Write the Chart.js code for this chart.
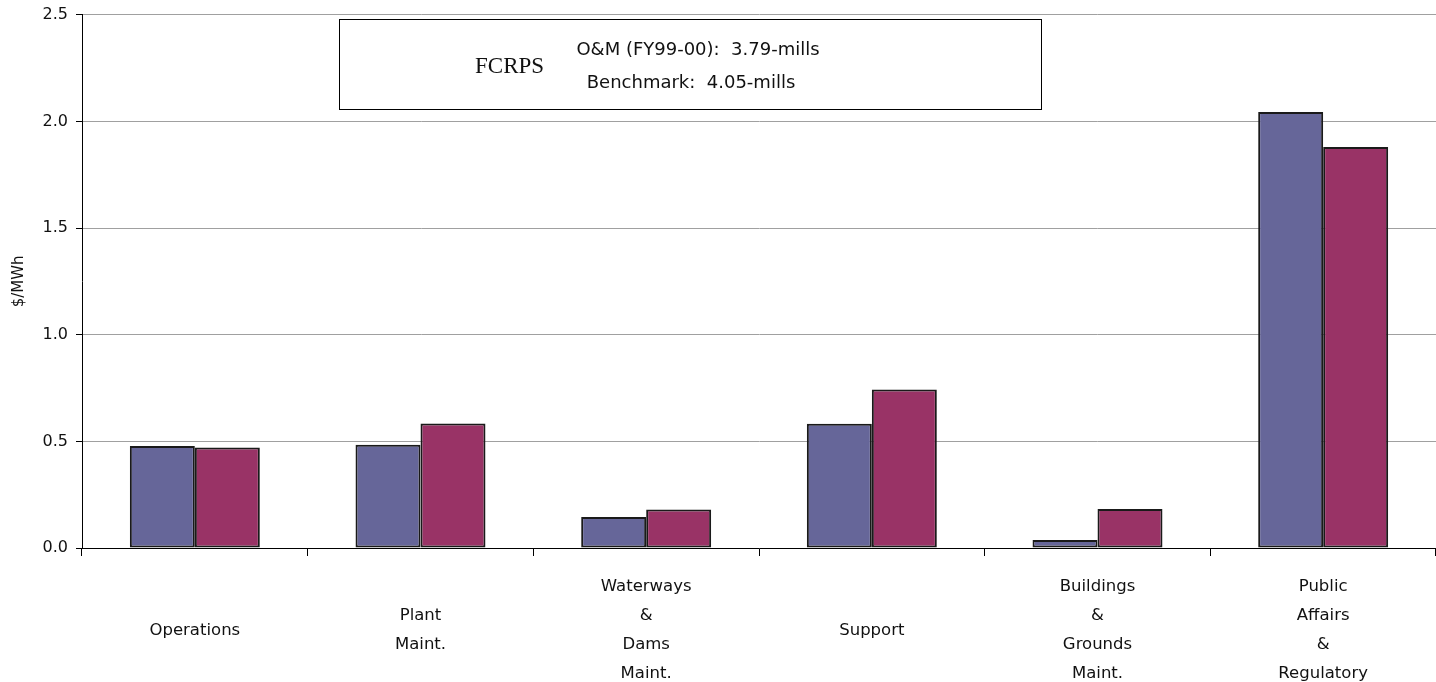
<!DOCTYPE html>
<html>
<head>
<meta charset="utf-8">
<script src="https://cdn.jsdelivr.net/npm/chart.js@4/dist/chart.umd.min.js"></script>
<style>
html,body{margin:0;padding:0;background:#fff;}
#wrap{width:1436px;height:682px;position:relative;}
</style>
</head>
<body>
<div id="wrap"><canvas id="c" width="1436" height="682"></canvas></div>
<script>
const categories = [
  "Operations",
  ["Plant", "Maint."],
  ["Waterways", "&", "Dams", "Maint."],
  "Support",
  ["Buildings", "&", "Grounds", "Maint."],
  ["Public", "Affairs", "&", "Regulatory"]
];
const fcrpsValues = [0.478, 0.484, 0.145, 0.582, 0.037, 2.044];
const benchmarkValues = [0.471, 0.584, 0.181, 0.743, 0.183, 1.880];
const yTicks = [0, 0.5, 1.0, 1.5, 2.0, 2.5];
const boxTitle = "FCRPS";
const boxLines = ["O&M (FY99-00):  3.79-mills", "Benchmark:  4.05-mills"];

const FONT = "'DejaVu Sans', sans-serif";

const boxPlugin = {
  id: 'infoBox',
  afterDraw(chart) {
    const ctx = chart.ctx;
    const x0 = 339.5, y0 = 19.5, w = 702, h = 90;
    ctx.save();
    ctx.fillStyle = '#fff';
    ctx.fillRect(x0, y0, w, h);
    ctx.strokeStyle = '#000';
    ctx.lineWidth = 1;
    ctx.strokeRect(x0, y0, w, h);
    ctx.fillStyle = '#111';
    ctx.textBaseline = 'middle';
    ctx.textAlign = 'left';
    ctx.font = "23px 'Liberation Serif', serif";
    ctx.fillText(boxTitle, 475, 67);
    ctx.textAlign = 'center';
    ctx.font = "18px " + FONT;
    ctx.fillText(boxLines[0], 698, 50);
    ctx.fillText(boxLines[1], 691, 83);
    ctx.restore();
  }
};

new Chart(document.getElementById('c'), {
  type: 'bar',
  data: {
    labels: categories,
    datasets: [
      { label: 'FCRPS', data: fcrpsValues, backgroundColor: '#666699', borderColor: '#1a1a1a', borderWidth: 2, borderSkipped: false },
      { label: 'Benchmark', data: benchmarkValues, backgroundColor: '#993366', borderColor: '#1a1a1a', borderWidth: 2, borderSkipped: false }
    ]
  },
  options: {
    responsive: false,
    animation: false,
    layout: { padding: { top: 0, right: 0, left: 10, bottom: 0 } },
    plugins: { legend: { display: false }, tooltip: { enabled: false } },
    datasets: { bar: { categoryPercentage: 0.576, barPercentage: 1.0 } },
    scales: {
      x: {
        offset: true,
        grid: { offset: true, drawOnChartArea: false, drawTicks: true, tickLength: 8, color: '#000', tickColor: '#000' },
        border: { display: true, color: '#000', width: 1 },
        ticks: { color: '#111', font: { family: FONT, size: 16.5, lineHeight: 1.75 }, padding: 31, maxRotation: 0, autoSkip: false, crossAlign: 'center' },
        afterFit(s) { s.height = 134; }
      },
      y: {
        min: 0, max: 2.5,
        afterBuildTicks(s) { s.ticks = yTicks.map(v => ({ value: v })); },
        grid: { color: '#a0a0a0', tickColor: '#000', tickLength: 6, lineWidth: 1 },
        border: { display: true, color: '#000', width: 1 },
        ticks: { color: '#111', font: { family: FONT, size: 16, lineHeight: 0.85 }, padding: 8, callback: v => Number(v).toFixed(1) },
        title: { display: true, text: '$/MWh', color: '#111', font: { family: FONT, size: 15 }, padding: { top: 0, bottom: 0 } },
        afterFit(s) { s.width = 72; }
      }
    }
  },
  plugins: [boxPlugin]
});
</script>
</body>
</html>
